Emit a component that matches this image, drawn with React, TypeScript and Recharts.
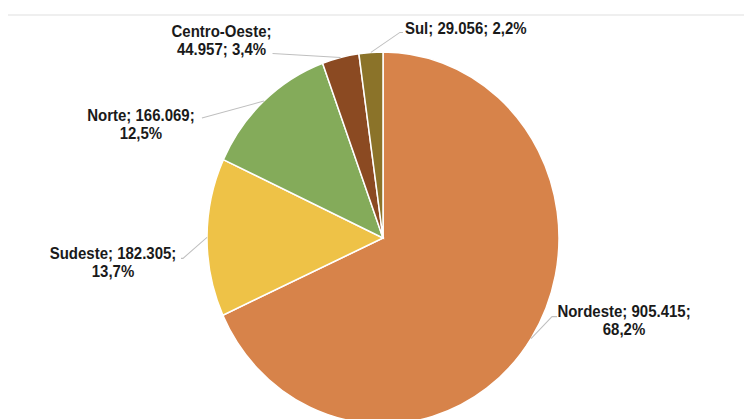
import { PieChart, Pie, Cell } from 'recharts'

const regions = ['Nordeste', 'Sudeste', 'Norte', 'Centro-Oeste', 'Sul']
const population = [905415, 182305, 166069, 44957, 29056]
const colors = ['#D7834A', '#EEC247', '#84AB5A', '#8B4A22', '#8B7329']

// the reference picture is stretched a little vertically
const S = 1.057
const RAD = Math.PI / 180

const total = population.reduce((a, b) => a + b, 0)
const data = regions.map((name, i) => ({ name, value: population[i] }))

// offsets in screen px from the slice edge point
const labelLayout = [
  { elbow: [21, -22], end: [26, -22], text: [93, -27], anchor: 'middle', wrap: 'value' },
  { elbow: [-24, 21], end: [-26, 21], text: [-94, 16], anchor: 'middle', wrap: 'value' },
  { elbow: [-62, 17], end: [-62, 17], text: [-123, 14], anchor: 'middle', wrap: 'value' },
  { elbow: [-68, -4], end: [-68, -4], text: [-119, -26], anchor: 'middle', wrap: 'name' },
  { elbow: [29, -20], end: [32, -20], text: [34, -24], anchor: 'start', wrap: 'none' },
]

const fmtInt = (v: number) => String(v).replace(/\B(?=(\d{3})+(?!\d))/g, '.')
const fmtPct = (v: number) => ((v / total) * 100).toFixed(1).replace('.', ',') + '%'

function renderLabel(props: any) {
  const { cx, cy, midAngle, outerRadius, index } = props
  const layout = labelLayout[index]
  const ex = cx + outerRadius * Math.cos(-midAngle * RAD)
  const ey = cy + outerRadius * Math.sin(-midAngle * RAD)
  const p = (o: number[]) => [ex + o[0], ey + o[1] / S]
  const [bx, by] = p(layout.elbow)
  const [fx, fy] = p(layout.end)
  const [tx, ty] = p(layout.text)

  const name = regions[index]
  const val = fmtInt(population[index])
  const pct = fmtPct(population[index])
  let lines: string[]
  if (layout.wrap === 'value') lines = [`${name}; ${val};`, pct]
  else if (layout.wrap === 'name') lines = [`${name};`, `${val}; ${pct}`]
  else lines = [`${name}; ${val}; ${pct}`]

  return (
    <g key={`lbl-${index}`}>
      <polyline
        points={`${ex},${ey} ${bx},${by} ${fx},${fy}`}
        fill="none"
        stroke="#BFBFBF"
        strokeWidth={1}
      />
      <text
        x={tx}
        y={ty}
        textAnchor={layout.anchor as any}
        fontSize={15}
        fontWeight="bold"
        fill="#1A1A1A"
        fontFamily="'Liberation Sans', Arial, sans-serif"
      >
        {lines.map((l, i) => (
          <tspan key={i} x={tx} dy={i === 0 ? '0.35em' : 18 / S}>
            {l}
          </tspan>
        ))}
      </text>
    </g>
  )
}

export default function App() {
  return (
    <div
      style={{
        position: 'absolute',
        left: 0,
        top: 0,
        width: 744,
        height: 419,
        overflow: 'hidden',
        background: '#fff',
      }}
    >
      <div
        style={{
          position: 'absolute',
          left: 8,
          top: 14,
          width: 736,
          height: 2,
          background: '#EFEFEF',
        }}
      />
      <div style={{ transform: `scaleY(${S})`, transformOrigin: '0 0' }}>
        <PieChart width={744} height={400} margin={{ top: 0, right: 0, bottom: 0, left: 0 }}>
          <Pie
            data={data}
            dataKey="value"
            nameKey="name"
            cx={383}
            cy={238 / S}
            outerRadius={176}
            startAngle={90}
            endAngle={-270}
            stroke="#FFFFFF"
            strokeWidth={1.5}
            label={renderLabel}
            labelLine={false}
            isAnimationActive={false}
          >
            {data.map((d, i) => (
              <Cell key={d.name} fill={colors[i]} />
            ))}
          </Pie>
        </PieChart>
      </div>
    </div>
  )
}
